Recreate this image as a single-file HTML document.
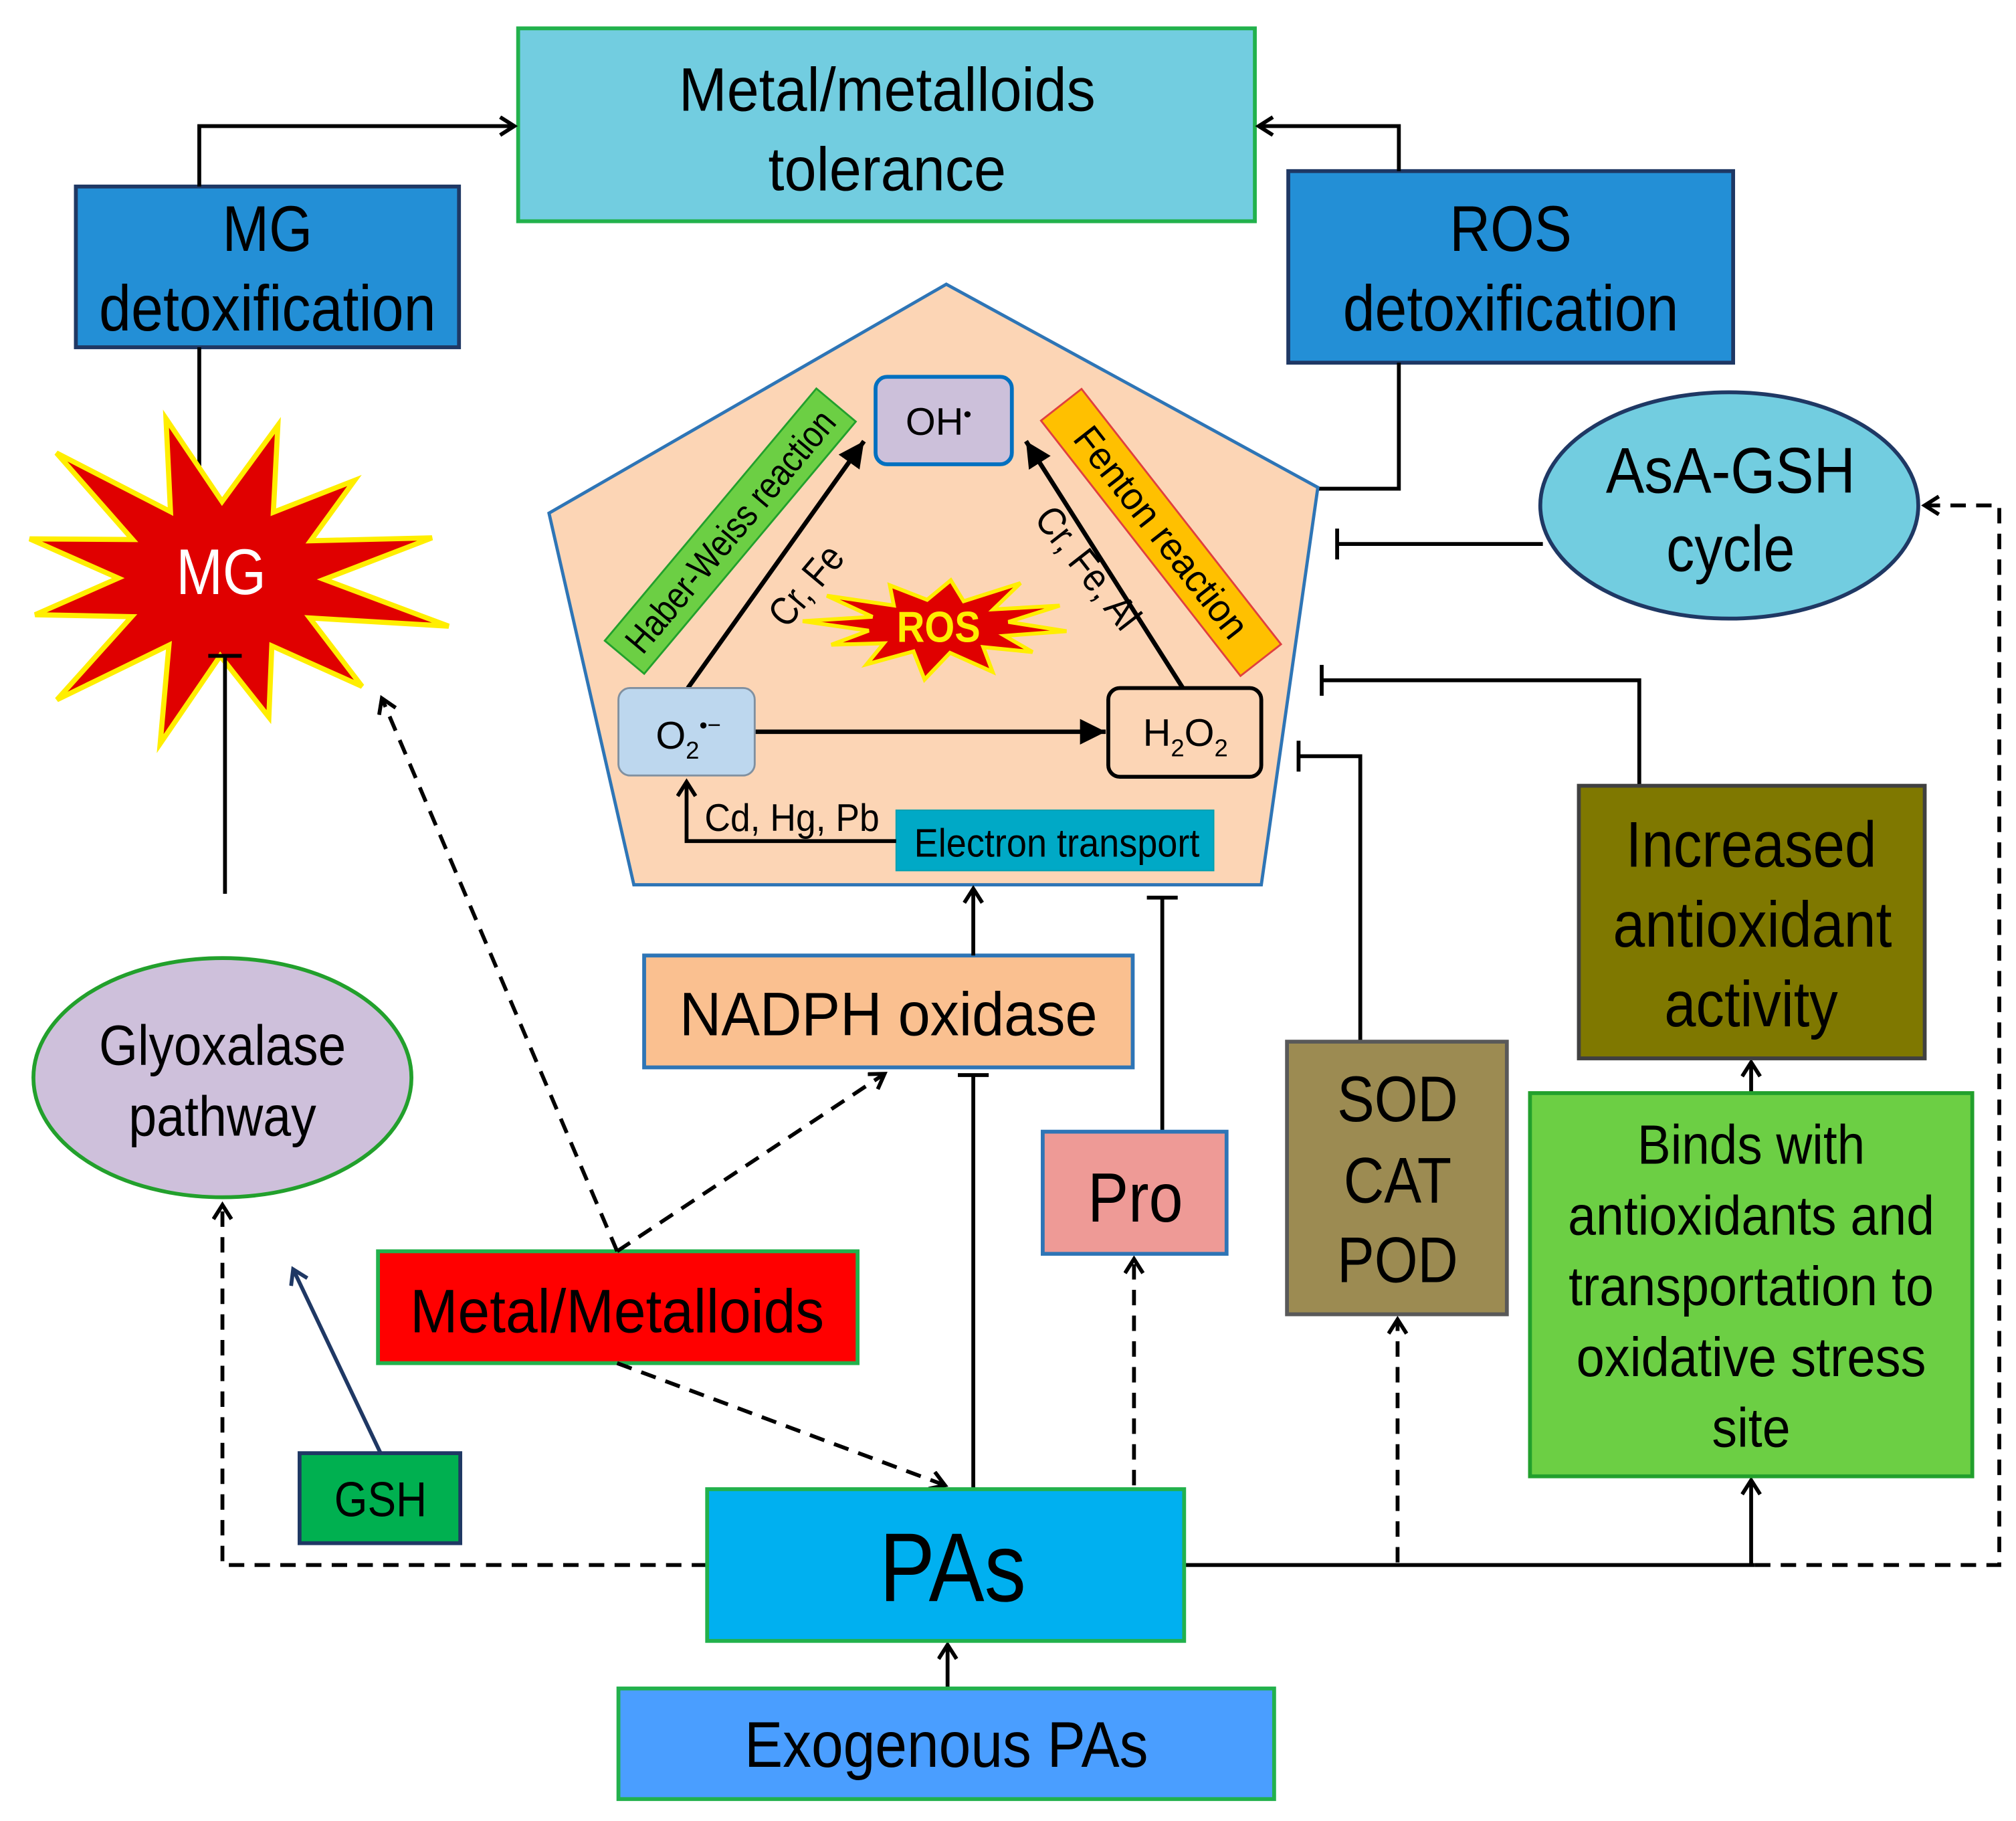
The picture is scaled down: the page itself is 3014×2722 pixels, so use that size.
<!DOCTYPE html>
<html><head><meta charset="utf-8"><style>
html,body{margin:0;padding:0;background:#fff}
svg{display:block}
text{font-family:"Liberation Sans Narrow","Liberation Sans",sans-serif;}
</style></head><body>
<svg id="s" width="3014" height="2722" viewBox="0 0 1568 1416" xmlns="http://www.w3.org/2000/svg">
<defs>
<marker id="oa" markerWidth="20" markerHeight="20" refX="12" refY="8" orient="auto" markerUnits="userSpaceOnUse"><path d="M1,1 L12,8 L1,15" fill="none" stroke="#000" stroke-width="3"/></marker>
<marker id="oan" markerWidth="20" markerHeight="20" refX="12" refY="8" orient="auto" markerUnits="userSpaceOnUse"><path d="M1,1 L12,8 L1,15" fill="none" stroke="#1F3864" stroke-width="3"/></marker>
<marker id="fa" markerWidth="24" markerHeight="24" refX="20" refY="10" orient="auto" markerUnits="userSpaceOnUse"><path d="M0,0 L20,10 L0,20 Z" fill="#000"/></marker>
</defs>
<rect width="1568" height="1416" fill="#fff"/>

<rect x="403" y="22" width="573" height="150" fill="#72CDE0" stroke="#22B14C" stroke-width="3"/>
<text x="690" y="86" font-size="48" text-anchor="middle" textLength="324" lengthAdjust="spacingAndGlyphs">Metal/metalloids</text>
<text x="690" y="148" font-size="48" text-anchor="middle" textLength="185" lengthAdjust="spacingAndGlyphs">tolerance</text>

<rect x="59" y="145" width="298" height="125" fill="#238FD6" stroke="#1F3864" stroke-width="3"/>
<text x="208" y="195" font-size="50" text-anchor="middle" textLength="70" lengthAdjust="spacingAndGlyphs">MG</text>
<text x="208" y="257" font-size="50" text-anchor="middle" textLength="262" lengthAdjust="spacingAndGlyphs">detoxification</text>

<rect x="1002" y="133" width="346" height="149" fill="#238FD6" stroke="#1F3864" stroke-width="3"/>
<text x="1175" y="195" font-size="50" text-anchor="middle" textLength="95" lengthAdjust="spacingAndGlyphs">ROS</text>
<text x="1175" y="257" font-size="50" text-anchor="middle" textLength="261" lengthAdjust="spacingAndGlyphs">detoxification</text>

<g stroke="#000" stroke-width="3" fill="none">
<polyline points="155,145 155,98 400,98" marker-end="url(#oa)"/>
<polyline points="1088,133 1088,98 979,98" marker-end="url(#oa)"/>
<line x1="155" y1="270" x2="155" y2="375"/>
<polyline points="1088,282 1088,380 1025,380"/>
</g>

<polygon id="mgstar" fill="#E00000" stroke="#FFEE00" stroke-width="4"/>
<text x="172" y="462" font-size="50" fill="#fff" text-anchor="middle" textLength="70" lengthAdjust="spacingAndGlyphs">MG</text>
<g stroke="#000" stroke-width="3"><line x1="175" y1="695" x2="175" y2="510"/><line x1="162" y1="510" x2="188" y2="510"/></g>

<ellipse cx="173" cy="838" rx="147" ry="93" fill="#CEC0DB" stroke="#22A02C" stroke-width="3"/>
<text x="173" y="828" font-size="44" text-anchor="middle" textLength="192" lengthAdjust="spacingAndGlyphs">Glyoxalase</text>
<text x="173" y="883" font-size="44" text-anchor="middle" textLength="146" lengthAdjust="spacingAndGlyphs">pathway</text>

<rect x="233" y="1130" width="125" height="70" fill="#00B050" stroke="#1F3864" stroke-width="3"/>
<text x="296" y="1179" font-size="38" text-anchor="middle" textLength="72" lengthAdjust="spacingAndGlyphs">GSH</text>
<line x1="296" y1="1130" x2="228" y2="987" stroke="#1F3864" stroke-width="3" marker-end="url(#oan)"/>

<rect x="294" y="973" width="373" height="87" fill="#FF0000" stroke="#22B14C" stroke-width="3"/>
<text x="480" y="1036" font-size="48" text-anchor="middle" textLength="322" lengthAdjust="spacingAndGlyphs">Metal/Metalloids</text>

<g stroke="#000" stroke-width="3" fill="none" stroke-dasharray="12,8">
<line x1="480" y1="973" x2="297" y2="543" marker-end="url(#oa)"/>
<line x1="480" y1="973" x2="688" y2="835" marker-end="url(#oa)"/>
<line x1="480" y1="1060" x2="735" y2="1155" marker-end="url(#oa)"/>
<polyline points="550,1217 173,1217 173,937" marker-end="url(#oa)"/>
<line x1="882" y1="1155" x2="882" y2="979" marker-end="url(#oa)"/>
<line x1="1087" y1="1215" x2="1087" y2="1026" marker-end="url(#oa)"/>
<polyline points="1365,1217 1555,1217 1555,393 1497,393" marker-end="url(#oa)"/>
</g>

<polygon points="736,221 1025,379 981,688 493,688 427,399" fill="#FCD5B5" stroke="#2E75B6" stroke-width="2.5"/>
<g transform="translate(568,413) rotate(-50)"><rect x="-128" y="-20" width="256" height="40" fill="#6CCF44" stroke="#22A02C" stroke-width="1.5"/><text x="0" y="10" font-size="29" text-anchor="middle" textLength="236" lengthAdjust="spacingAndGlyphs">Haber-Weiss reaction</text></g>
<g transform="translate(903,414) rotate(52)"><rect x="-126" y="-20" width="252" height="40" fill="#FFC000" stroke="#E04040" stroke-width="1.5"/><text x="0" y="10" font-size="30" text-anchor="middle" textLength="200" lengthAdjust="spacingAndGlyphs">Fenton reaction</text></g>
<g stroke="#000" stroke-width="3.5" fill="none">
<line x1="535" y1="535" x2="672" y2="343" marker-end="url(#fa)"/>
<line x1="920" y1="535" x2="798" y2="343" marker-end="url(#fa)"/>
<line x1="587" y1="569" x2="860" y2="569" marker-end="url(#fa)"/>
</g>
<text transform="translate(635,462) rotate(-50)" font-size="31" text-anchor="middle" textLength="72" lengthAdjust="spacingAndGlyphs">Cr, Fe</text>
<text transform="translate(838,448) rotate(52)" font-size="31" text-anchor="middle" textLength="112" lengthAdjust="spacingAndGlyphs">Cr, Fe, Al</text>
<polygon id="rosstar" fill="#E00000" stroke="#FFEE00" stroke-width="3"/>
<text x="730" y="499" font-size="34" font-weight="bold" fill="#FFEE00" text-anchor="middle" textLength="65" lengthAdjust="spacingAndGlyphs">ROS</text>
<rect x="681" y="293" width="106" height="68" rx="9" fill="#CCC0DA" stroke="#0070C0" stroke-width="3"/>
<text x="730" y="338" font-size="30" text-anchor="middle">OH<tspan font-size="18" dy="-10">•</tspan></text>
<rect x="481" y="535" width="106" height="68" rx="9" fill="#BDD7EE" stroke="#8090A0" stroke-width="1.5"/>
<text x="510" y="582" font-size="30">O<tspan font-size="19" dy="8">2</tspan><tspan font-size="18" dy="-20">•−</tspan></text>
<rect x="862" y="535" width="119" height="69" rx="9" fill="#FCD5B5" stroke="#000" stroke-width="3"/>
<text x="922" y="580" font-size="30" text-anchor="middle">H<tspan font-size="19" dy="8">2</tspan><tspan dy="-8">O</tspan><tspan font-size="19" dy="8">2</tspan></text>
<rect x="697" y="630" width="247" height="47" fill="#00A9C6" stroke="#00A0B0" stroke-width="1"/>
<text x="822" y="666" font-size="31" text-anchor="middle" textLength="222" lengthAdjust="spacingAndGlyphs">Electron transport</text>
<polyline points="697,654 534,654 534,608" stroke="#000" stroke-width="3" fill="none" marker-end="url(#oa)"/>
<text x="548" y="646" font-size="30" textLength="136" lengthAdjust="spacingAndGlyphs">Cd, Hg, Pb</text>

<rect x="501" y="743" width="380" height="87" fill="#FAC090" stroke="#2E75B6" stroke-width="3"/>
<text x="691" y="805" font-size="48" text-anchor="middle" textLength="325" lengthAdjust="spacingAndGlyphs">NADPH oxidase</text>
<g stroke="#000" stroke-width="3" fill="none">
<line x1="757" y1="743" x2="757" y2="691" marker-end="url(#oa)"/>
<line x1="757" y1="1160" x2="757" y2="836"/><line x1="745" y1="836" x2="769" y2="836"/>
<line x1="904" y1="880" x2="904" y2="698"/><line x1="892" y1="698" x2="916" y2="698"/>
<polyline points="1058,810 1058,588 1010,588"/><line x1="1010" y1="576" x2="1010" y2="600"/>
<polyline points="1275,611 1275,529 1028,529"/><line x1="1028" y1="517" x2="1028" y2="541"/>
<line x1="1200" y1="423" x2="1040" y2="423"/><line x1="1040" y1="411" x2="1040" y2="435"/>
<polyline points="921,1217 1365,1217"/>
<line x1="1362" y1="1217" x2="1362" y2="1151" marker-end="url(#oa)"/>
<line x1="1362" y1="850" x2="1362" y2="826" marker-end="url(#oa)"/>
<line x1="737" y1="1313" x2="737" y2="1279" marker-end="url(#oa)"/>
</g>

<rect x="811" y="880" width="143" height="95" fill="#EE9A96" stroke="#2E75B6" stroke-width="3"/>
<text x="883" y="950" font-size="54" text-anchor="middle" textLength="74" lengthAdjust="spacingAndGlyphs">Pro</text>

<rect x="1001" y="810" width="171" height="212" fill="#9C8B52" stroke="#595959" stroke-width="3"/>
<text x="1087" y="872" font-size="50" text-anchor="middle" textLength="94" lengthAdjust="spacingAndGlyphs">SOD</text>
<text x="1087" y="935" font-size="50" text-anchor="middle" textLength="84" lengthAdjust="spacingAndGlyphs">CAT</text>
<text x="1087" y="997" font-size="50" text-anchor="middle" textLength="94" lengthAdjust="spacingAndGlyphs">POD</text>

<rect x="1228" y="611" width="269" height="212" fill="#7F7800" stroke="#404040" stroke-width="3"/>
<text x="1362" y="674" font-size="50" text-anchor="middle" textLength="195" lengthAdjust="spacingAndGlyphs">Increased</text>
<text x="1363" y="736" font-size="50" text-anchor="middle" textLength="217" lengthAdjust="spacingAndGlyphs">antioxidant</text>
<text x="1362" y="798" font-size="50" text-anchor="middle" textLength="135" lengthAdjust="spacingAndGlyphs">activity</text>

<rect x="1190" y="850" width="344" height="298" fill="#6CCF44" stroke="#22A02C" stroke-width="3"/>
<text x="1362" y="905" font-size="43" text-anchor="middle" textLength="177" lengthAdjust="spacingAndGlyphs">Binds with</text>
<text x="1362" y="960" font-size="43" text-anchor="middle" textLength="285" lengthAdjust="spacingAndGlyphs">antioxidants and</text>
<text x="1362" y="1015" font-size="43" text-anchor="middle" textLength="284" lengthAdjust="spacingAndGlyphs">transportation to</text>
<text x="1362" y="1070" font-size="43" text-anchor="middle" textLength="272" lengthAdjust="spacingAndGlyphs">oxidative stress</text>
<text x="1362" y="1125" font-size="43" text-anchor="middle" textLength="61" lengthAdjust="spacingAndGlyphs">site</text>

<ellipse cx="1345" cy="393" rx="147" ry="88" fill="#72CDE0" stroke="#1F3864" stroke-width="3"/>
<text x="1346" y="383" font-size="50" text-anchor="middle" textLength="194" lengthAdjust="spacingAndGlyphs">AsA-GSH</text>
<text x="1346" y="444" font-size="50" text-anchor="middle" textLength="100" lengthAdjust="spacingAndGlyphs">cycle</text>

<rect x="550" y="1158" width="371" height="118" fill="#00B0F0" stroke="#22B14C" stroke-width="3"/>
<text x="741" y="1245" font-size="76" text-anchor="middle" textLength="114" lengthAdjust="spacingAndGlyphs">PAs</text>

<rect x="481" y="1313" width="510" height="86" fill="#4A9EFF" stroke="#22B14C" stroke-width="3"/>
<text x="736" y="1374" font-size="50" text-anchor="middle" textLength="314" lengthAdjust="spacingAndGlyphs">Exogenous PAs</text>
</svg>
<script>
function star(cx,cy,n,ro,ri,sx,sy,rot,jit){var p=[];for(var i=0;i<2*n;i++){var a=rot+Math.PI*i/n;var r=(i%2?ri:ro*(1+jit*Math.sin(i*2.3)));p.push((cx+Math.cos(a)*r*sx).toFixed(1)+","+(cy+Math.sin(a)*r*sy).toFixed(1));}return p.join(" ");}
document.getElementById("mgstar").setAttribute("points",star(172,450,12,165,80,1,0.75,-1.3,0.12));
document.getElementById("rosstar").setAttribute("points",star(730,487,12,100,55,1,0.38,0.1,0.1));
</script>
</body></html>
